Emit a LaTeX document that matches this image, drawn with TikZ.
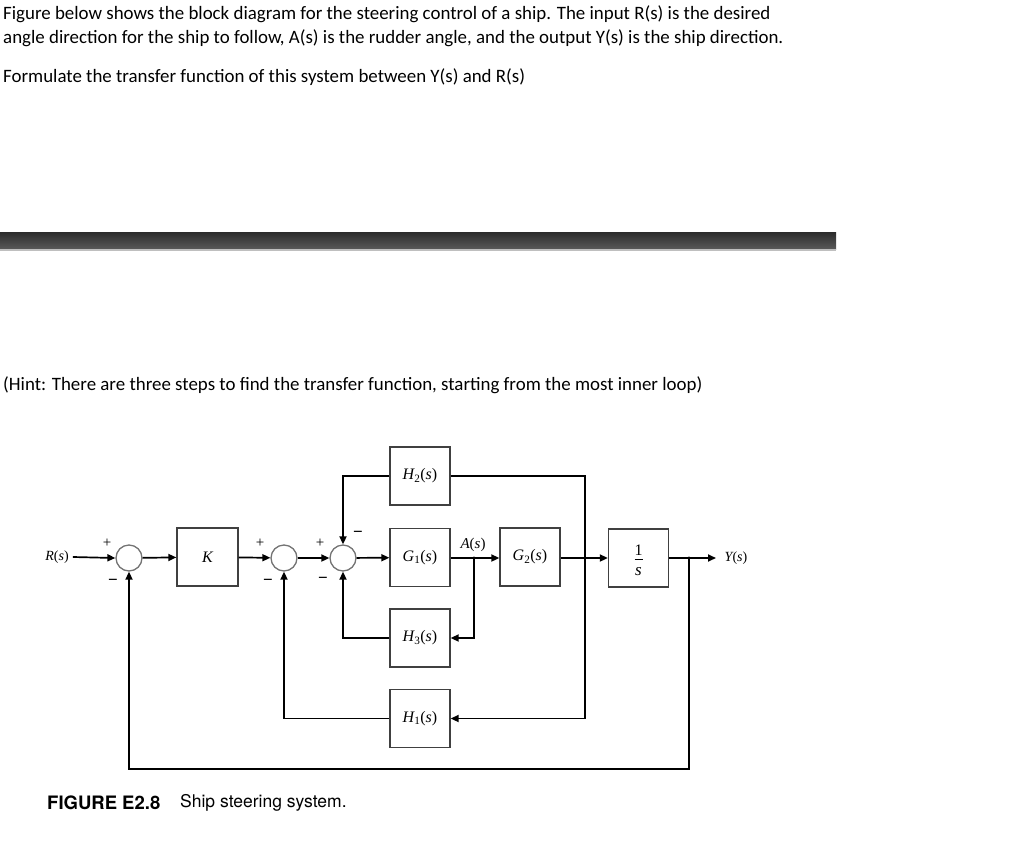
\documentclass[tikz,border=0pt]{standalone}
\usepackage{fontspec}
\setmainfont{Carlito}
\newfontfamily\heros{TeX Gyre Heros}
\newfontfamily\tms{Liberation Serif}
\usetikzlibrary{arrows.meta}
\newcommand{\vv}[1]{{\tms\itshape #1}}
\begin{document}
\begin{tikzpicture}[x=1pt,y=-1pt,
  txt/.style={anchor=west, inner sep=0, font=\fontsize{18.9}{22}\selectfont},
  blk/.style={draw=black!75, line width=1.3pt, minimum width=60pt, minimum height=58pt, inner sep=0, font=\tms\fontsize{16}{18}\selectfont},
  sumc/.style={circle, draw=black!55, line width=1.3pt, minimum size=26pt, inner sep=0},
  ln/.style={line width=1.7pt},
  sig/.style={line width=1.7pt, -{Triangle[length=8pt,width=7pt]}},
  sgn/.style={inner sep=0, font=\tms\fontsize{15}{16}\selectfont},
  msgn/.style={inner sep=0, font=\tms\bfseries\fontsize{17}{18}\selectfont},
  lab/.style={inner sep=0, font=\tms\fontsize{14}{16}\selectfont}]
\useasboundingbox (0,0) rectangle (1024,840);
% text
\node[txt] (t1) at (3,14) {Figure below shows the block diagram for the steering control of a ship. The input R(s) is the desired};
\node[txt] (t2) at (3,38) {angle direction for the ship to follow, A(s) is the rudder angle, and the output Y(s) is the ship direction.};
\node[txt] (t3) at (3,77) {Formulate the transfer function of this system between Y(s) and R(s)};
\node[txt] (t4) at (3,385) {(Hint: There are three steps to find the transfer function, starting from the most inner loop)};
% bar
\shade[top color=black!83, bottom color=black!65] (0,232) rectangle (836,249);
\fill[black!25] (0,249) rectangle (836,250.5);
% blocks
\node[sumc] (s1) at (129,558) {};
\node[blk, minimum width=61pt] (K) at (207.5,557) {\vv{K}};
\node[sumc] (s2) at (284,558) {};
\node[sumc] (s3) at (343,558) {};
\node[blk] (H2) at (420,476) {\vv{H}\textsubscript{2}(\vv{s})};
\node[blk] (G1) at (420,557.5) {\vv{G}\textsubscript{1}(\vv{s})};
\node[blk] (G2) at (530,557) {\vv{G}\textsubscript{2}(\vv{s})};
\node[blk] (I) at (638.5,558) {};
\node[anchor=base, inner sep=0, font=\tms\fontsize{16}{18}\selectfont] (Inum) at (638.5,555) {1};
\node[anchor=base, inner sep=0, font=\tms\fontsize{17}{18}\selectfont] (Iden) at (638.5,575) {\vv{s}};
\draw[line width=0.7pt] (634.5,559) -- (642.5,559);
\node[blk] (H3) at (420,638) {\vv{H}\textsubscript{3}(\vv{s})};
\node[blk] (H1) at (420,718.5) {\vv{H}\textsubscript{1}(\vv{s})};
\node[lab] (R) at (57,557) {\vv{R}(\vv{s})};
\node[lab] (Y) at (736,558) {\vv{Y}(\vv{s})};
\node[lab, font=\tms\fontsize{15}{17}\selectfont] (A) at (473,545) {\vv{A}(\vv{s})};
\coordinate (Yend) at (716,558);
\coordinate (bA) at (474,558);
\coordinate (bG) at (585,558);
\coordinate (bY) at (689,558);
\coordinate (cH1) at (585,718.5);
\coordinate (cB) at (689,769);
% signals
\draw[sig] (R.east) ++(4,0) -- (s1.west);
\draw[sig] (s1) -- (K);
\draw[sig] (K) -- (s2);
\draw[sig] (s2) -- (s3);
\draw[sig] (s3) -- (G1);
\draw[sig] (G1.east |- bA) -- (G2.west |- bA);
\draw[sig] (G2.east |- bG) -- (I.west |- bG);
\draw[sig] (I.east |- bY) -- (Yend);
\draw[sig] (bA) |- (H3.east);
\draw[sig] (H3.west) -| (s3.south);
\draw[sig] (H2.west) -| (s3.north);
\draw[sig] (H2.east) -| (cH1) -- (H1.east);
\draw[sig] (H1.west) -| (s2.south);
\draw[sig] (bY) -- (cB) -| (s1.south);
\foreach \p in {bA,bG,bY} \fill (\p) circle (1.6);
% signs
\node[sgn] (p1) at (107,543) {+};
\node[msgn] (m1) at (113,582) {−};
\node[sgn] (p2) at (260,543) {+};
\node[msgn] (m2) at (268,582) {−};
\node[sgn] (p3) at (320,543) {+};
\node[msgn] (m3) at (358,534) {−};
\node[msgn] (m4) at (323,580) {−};
% caption
\node[anchor=west, inner sep=0, font=\heros\bfseries\fontsize{18.5}{20}\selectfont] (cap1) at (47,803) {FIGURE E2.8};
\node[anchor=west, inner sep=0, font=\heros\fontsize{17.5}{20}\selectfont] (cap2) at (180,803) {Ship steering system.};
\end{tikzpicture}
\end{document}
